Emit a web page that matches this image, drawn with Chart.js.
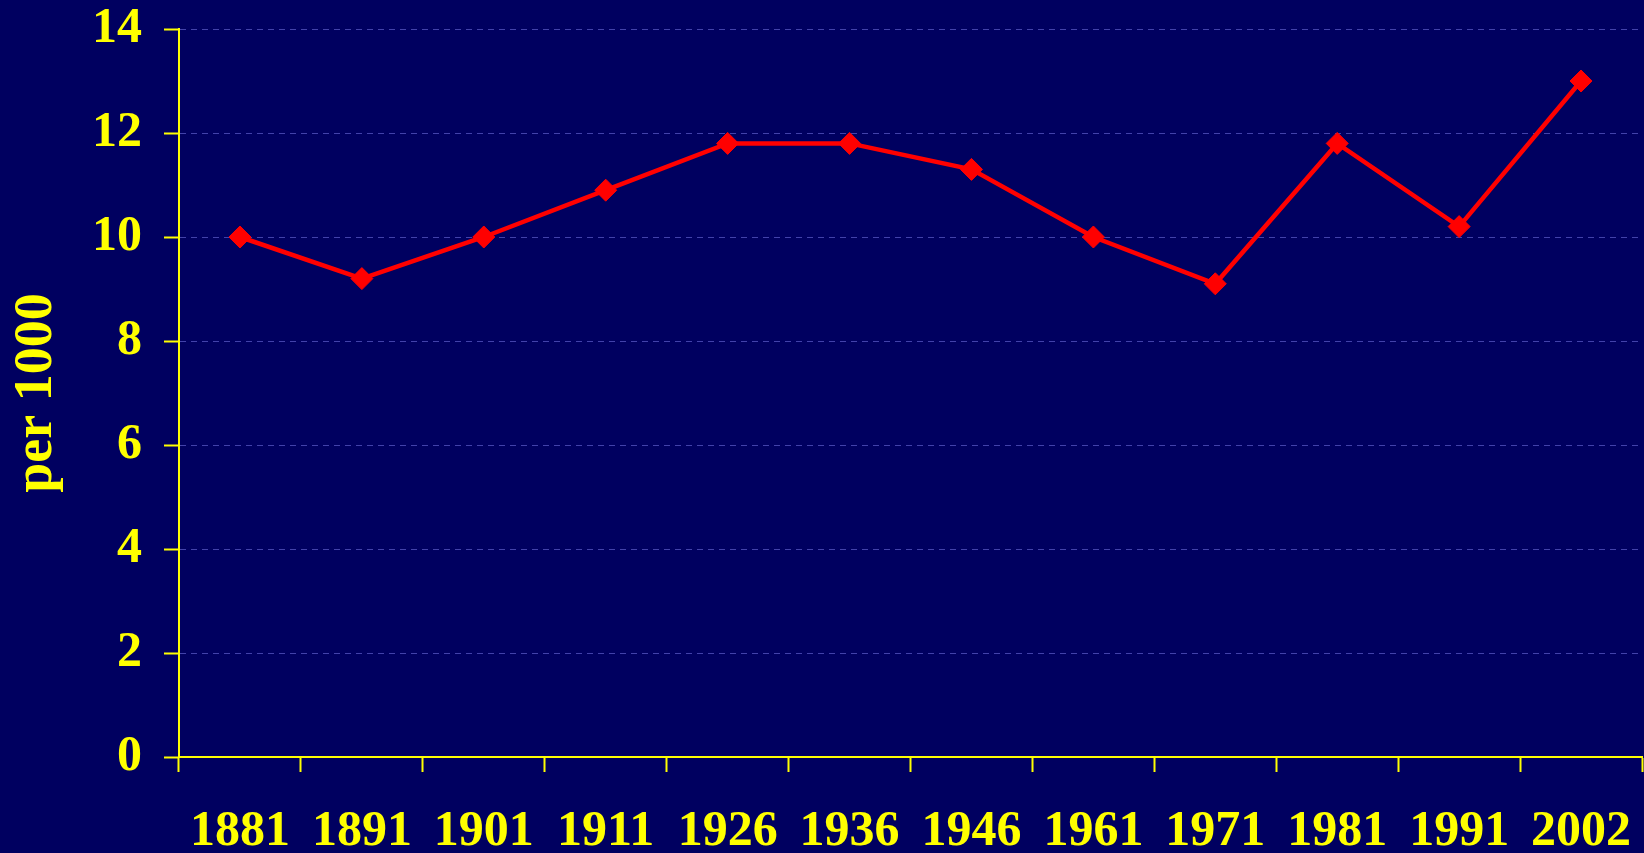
<!DOCTYPE html>
<html>
<head>
<meta charset="utf-8">
<script src="https://cdn.jsdelivr.net/npm/chart.js@4/dist/chart.umd.min.js"></script>
<style>
  html, body { margin: 0; padding: 0; background: #000060; }
  #wrap { width: 1644px; height: 853px; position: relative; }
  canvas { display: block; }
</style>
</head>
<body>
<div id="wrap"><canvas id="c" width="1644" height="853"></canvas></div>
<script>
const categories = ['1881', '1891', '1901', '1911', '1926', '1936', '1946', '1961', '1971', '1981', '1991', '2002'];
const rateValues = [10.0, 9.2, 10.0, 10.9, 11.8, 11.8, 11.3, 10.0, 9.1, 11.8, 10.2, 13.0];
const yTickValues = [0, 2, 4, 6, 8, 10, 12, 14];
const yAxisTitle = 'per 1000';

const YELLOW = '#FFFF00';
const FONT = "'Liberation Serif', 'Times New Roman', serif";

function zeroPad(s) { s.paddingTop = 0; s.paddingBottom = 0; s.paddingLeft = 0; s.paddingRight = 0; }

new Chart(document.getElementById('c'), {
  type: 'line',
  data: {
    labels: categories,
    datasets: [{
      data: rateValues,
      borderColor: '#FF0000',
      backgroundColor: '#FF0000',
      borderWidth: 4.5,
      pointStyle: 'rectRot',
      pointRadius: 11,
      pointHoverRadius: 11,
      pointBorderWidth: 1,
      pointBorderColor: '#FF0000',
      pointBackgroundColor: '#FF0000',
      tension: 0,
      fill: false
    }]
  },
  options: {
    responsive: false,
    animation: false,
    devicePixelRatio: 1,
    layout: { autoPadding: false, padding: { top: 29, right: 2, left: 0, bottom: 0 } },
    plugins: { legend: { display: false }, tooltip: { enabled: false } },
    scales: {
      x: {
        type: 'category',
        offset: true,
        grid: {
          display: true,
          offset: true,
          drawOnChartArea: false,
          drawTicks: true,
          tickLength: 15,
          tickColor: YELLOW,
          tickWidth: 2,
          color: YELLOW
        },
        border: { display: true, color: YELLOW, width: 2 },
        ticks: {
          color: YELLOW,
          padding: 35,
          maxRotation: 0,
          autoSkip: false,
          font: { family: FONT, size: 50, weight: 'bold', lineHeight: 1 }
        },
        afterFit: (s) => { s.height = 96; zeroPad(s); }
      },
      y: {
        min: 0,
        max: 14,
        afterBuildTicks: (s) => { s.ticks = yTickValues.map(v => ({ value: v })); },
        grid: {
          display: true,
          drawOnChartArea: true,
          drawTicks: true,
          tickLength: 15,
          tickColor: YELLOW,
          tickWidth: 2,
          tickBorderDash: [],
          color: 'rgba(110,110,220,0.6)',
          lineWidth: 1
        },
        border: { display: true, color: YELLOW, width: 2, dash: [6, 5] },
        ticks: {
          color: YELLOW,
          padding: 22,
          font: { family: FONT, size: 50, weight: 'bold', lineHeight: 1 }
        },
        title: {
          display: true,
          text: yAxisTitle,
          color: YELLOW,
          padding: { top: 10, bottom: 0 },
          font: { family: FONT, size: 54, weight: 'bold', lineHeight: 1 }
        },
        afterFit: (s) => { s.width = 179; zeroPad(s); }
      }
    }
  }
});
</script>
</body>
</html>
